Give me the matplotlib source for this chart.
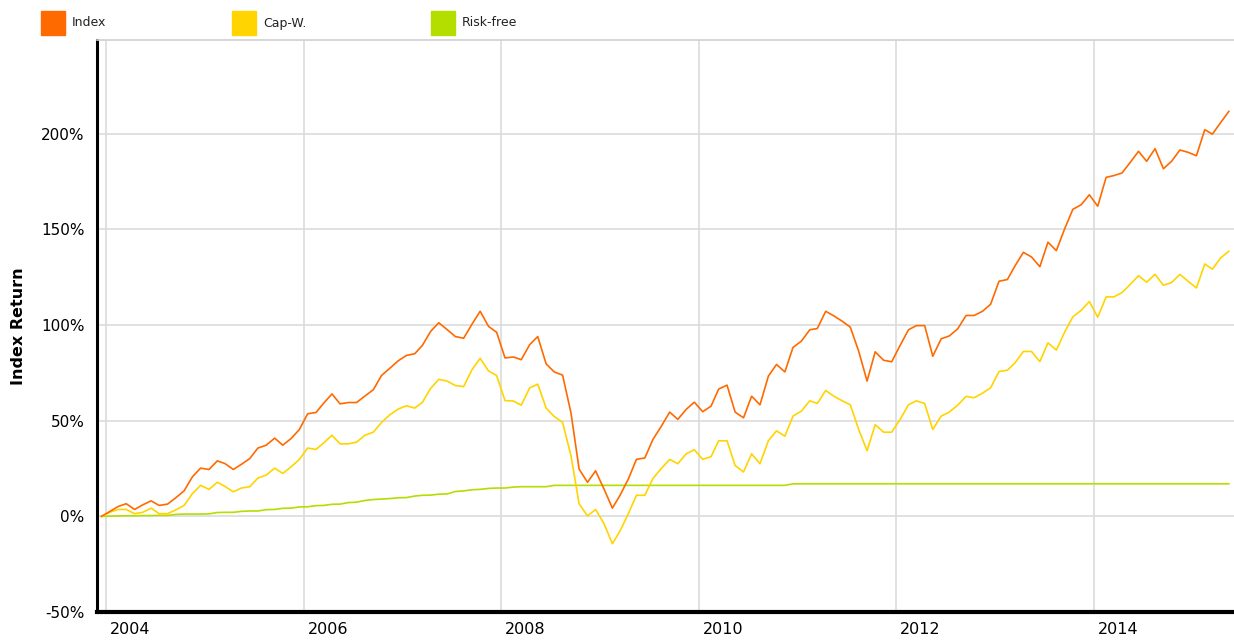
import pandas as pd
import matplotlib.pyplot as plt
import matplotlib.transforms as mtransforms
from matplotlib.patches import Rectangle

# monthly cumulative returns in %
index_ret = [0, 2.6, 5.2, 6.6, 3.6, 6.0, 8.1, 5.7, 6.4, 9.8, 13.3, 20.7, 25.2, 24.5, 29.0, 27.6, 24.5, 27.2, 30.2, 35.7,
             37.2, 40.9, 37.2, 40.7, 45.3, 53.6, 54.3, 59.1, 64.0, 58.8, 59.5, 59.5, 62.9, 66.2, 73.6,
             77.4, 81.2, 84.1, 85.0, 89.3, 96.7, 101.2, 97.6, 94.0, 93.1, 100.5, 107.2, 99.3, 96.2, 82.8, 83.3, 81.9,
             89.7, 94.0, 79.7, 75.5, 73.8, 54.0, 24.7, 17.8, 23.8, 14.3, 4.3, 10.9, 19.5, 29.8, 30.5, 40.2, 47.1,
             54.5, 50.7, 55.9, 59.7, 54.7, 57.6, 66.5, 68.6, 54.5, 51.5, 62.8, 58.3, 73.3, 79.4, 75.5, 88.3, 91.6,
             97.5, 98.2, 107.2, 104.8, 102.0, 98.9, 86.3, 70.7, 86.0, 81.6, 80.8, 89.3, 97.5, 99.7, 99.7, 83.7, 92.8, 94.3,
             98.0, 105.0, 105.0, 107.2, 110.9, 122.9, 123.8, 130.9, 138.0, 135.6, 130.5, 143.3, 138.9, 150.4, 160.5,
             162.9, 168.1, 162.1, 177.2, 178.1, 179.5, 185.0, 190.8, 185.6, 192.2, 181.7, 185.6, 191.5, 190.3, 188.5,
             202.1, 199.8, 205.9, 211.7]
capw_ret = [0, 2.2, 3.6, 3.6, 1.4, 2.1, 4.3, 1.4, 1.4, 3.4, 5.7, 11.9, 16.2, 14.1, 17.8, 15.7, 12.8, 14.8, 15.5, 20.0,
            21.6, 25.2, 22.4, 25.9, 29.7, 35.7, 35.0, 38.3, 42.4, 37.9, 37.9, 38.8, 42.4, 44.0, 49.0,
            53.1, 56.0, 57.8, 56.6, 59.5, 66.9, 71.6, 70.7, 68.4, 67.8, 76.7, 82.6, 76.0, 73.6, 60.5, 60.3, 58.1,
            67.1, 69.1, 56.6, 52.2, 49.1, 31.6, 6.6, 0.2, 3.6, -3.8, -14.3, -7.8, 1.4, 11.0, 11.0, 19.8, 25.0,
            29.8, 27.5, 32.7, 34.8, 29.8, 31.2, 39.5, 39.5, 26.6, 23.2, 32.7, 27.5, 39.5, 44.7, 41.9, 52.4, 55.0,
            60.4, 59.0, 65.8, 62.8, 60.4, 58.3, 45.4, 34.3, 47.9, 44.0, 44.0, 50.6, 58.3, 60.4, 59.0, 45.4, 52.4, 54.5,
            58.1, 62.7, 62.0, 64.4, 67.2, 75.7, 76.4, 80.2, 86.2, 86.2, 80.9, 90.7, 86.9, 96.4, 104.3, 107.7, 112.3,
            104.1, 114.7, 114.7, 117.0, 121.2, 125.8, 122.4, 126.5, 120.8, 122.2, 126.5, 122.9, 119.4, 131.9, 129.2,
            135.1, 138.6]
riskfree_ret = ([0.0, 0.1, 0.2, 0.3, 0.3, 0.4, 0.4, 0.5, 0.5, 1.0, 1.2, 1.2, 1.2, 1.3, 2.0, 2.1, 2.1, 2.6, 2.8, 2.8,
                 3.5, 3.6, 4.2, 4.3, 4.9, 5.0, 5.6, 5.7, 6.3, 6.4, 7.2, 7.4, 8.3, 8.8, 9.0, 9.3, 9.7, 9.8, 10.6, 11.0,
                 11.1, 11.6, 11.7, 13.0, 13.3, 13.9, 14.1, 14.6, 14.8, 14.8, 15.3, 15.5, 15.5, 15.5, 15.5]
                + [16.2] * 29 + [17.0] * 54)

dates = pd.date_range('2003-12-01', periods=len(index_ret), freq='MS') + pd.Timedelta(days=14)
series_names = ['Index', 'Cap-W.', 'Risk-free']
colors = ['#ff6a00', '#ffd400', '#b3de00']
year_ticks = [2004, 2006, 2008, 2010, 2012, 2014]
y_ticks = [-50, 0, 50, 100, 150, 200]

fig = plt.figure(figsize=(12.34, 6.42), dpi=100)
ax = fig.add_axes([97 / 1234, 30 / 642, 1 - 97 / 1234, 572 / 642])

for vals, c in zip([riskfree_ret, capw_ret, index_ret], [colors[2], colors[1], colors[0]]):
    ax.plot(dates, vals, color=c, lw=1.2, zorder=3)

ax.set_ylim(-50, 249)
ax.set_xlim(pd.Timestamp('2003-11-28'), pd.Timestamp('2015-06-03'))
ax.set_yticks(y_ticks)
ax.set_yticklabels([f'{v}%' for v in y_ticks], fontsize=11)
ax.set_xticks([pd.Timestamp(f'{y}-01-01') for y in year_ticks])
ax.set_xticklabels([str(y) for y in year_ticks], fontsize=11.5)
ax.tick_params(axis='both', length=0)
ax.tick_params(axis='y', pad=9)
ax.tick_params(axis='x', pad=7)
offset = mtransforms.ScaledTranslation(4 / 100, 0, fig.dpi_scale_trans)
for lab in ax.get_xticklabels():
    lab.set_ha('left')
    lab.set_transform(lab.get_transform() + offset)

ax.grid(True, color='#dcdcdc', lw=1.2, zorder=0)
ax.spines['left'].set_linewidth(2.2)
ax.spines['bottom'].set_linewidth(3)
ax.spines['top'].set_color('#d0d0d0')
ax.spines['top'].set_linewidth(1.2)
ax.spines['right'].set_visible(False)

ax.set_ylabel('Index Return', fontsize=11.5, fontweight='bold')
ax.yaxis.set_label_coords(-0.0625, 0.5)

# legend along the top
for name, c, x0 in zip(series_names, colors, [41, 232, 431]):
    fig.add_artist(Rectangle((x0 / 1234, 1 - 35 / 642), 24 / 1234, 24 / 642, color=c, transform=fig.transFigure))
    fig.text((x0 + 31) / 1234, 1 - 23 / 642, name, fontsize=9, va='center', ha='left', color='#222222')

plt.savefig('out.png', dpi=100)
